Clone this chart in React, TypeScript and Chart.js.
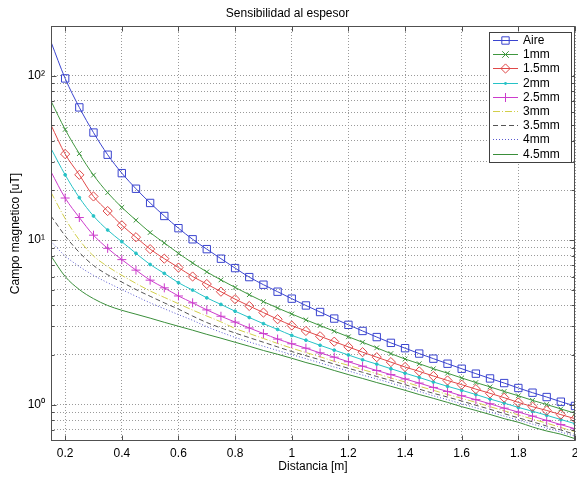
import React, { useEffect, useRef } from 'react';
import { Chart, registerables } from 'chart.js';

Chart.register(...registerables);

// ---- data ----
const distances = [0.15, 0.2, 0.25, 0.3, 0.35, 0.4, 0.45, 0.5, 0.55, 0.6, 0.65, 0.7, 0.75, 0.8, 0.85, 0.9, 0.95, 1.0, 1.05, 1.1, 1.15, 1.2, 1.25, 1.3, 1.35, 1.4, 1.45, 1.5, 1.55, 1.6, 1.65, 1.7, 1.75, 1.8, 1.85, 1.9, 1.95, 2.0];

const aire = [160, 96, 64, 45, 33, 25.5, 20.5, 16.8, 14.0, 11.8, 10.1, 8.8, 7.7, 6.75, 5.95, 5.35, 4.85, 4.4, 4.0, 3.65, 3.33, 3.05, 2.8, 2.57, 2.37, 2.2, 2.04, 1.9, 1.77, 1.65, 1.54, 1.44, 1.35, 1.26, 1.18, 1.11, 1.04, 0.98];
const mm1 = [70, 47, 33.5, 24.8, 19.4, 15.8, 13.2, 11.1, 9.6, 8.3, 7.25, 6.4, 5.72, 5.15, 4.65, 4.22, 3.86, 3.55, 3.27, 3.02, 2.79, 2.58, 2.39, 2.21, 2.04, 1.89, 1.77, 1.65, 1.55, 1.45, 1.36, 1.28, 1.2, 1.13, 1.06, 1.0, 0.94, 0.885];
const mm15 = [50, 33.3, 24.9, 18.4, 15.0, 12.3, 10.4, 8.8, 7.7, 6.8, 6.0, 5.4, 4.85, 4.37, 3.97, 3.62, 3.3, 3.02, 2.8, 2.6, 2.41, 2.24, 2.08, 1.94, 1.81, 1.69, 1.59, 1.49, 1.4, 1.32, 1.24, 1.17, 1.1, 1.03, 0.97, 0.92, 0.868, 0.82];
const mm2 = [36, 24.9, 18.1, 14.0, 11.5, 9.77, 8.3, 7.1, 6.27, 5.5, 4.96, 4.45, 4.06, 3.69, 3.38, 3.1, 2.86, 2.63, 2.46, 2.29, 2.14, 2.0, 1.87, 1.76, 1.65, 1.55, 1.46, 1.37, 1.29, 1.22, 1.15, 1.08, 1.02, 0.96, 0.91, 0.86, 0.81, 0.765];
const mm25 = [26, 18, 13.7, 10.7, 8.9, 7.6, 6.56, 5.7, 5.12, 4.57, 4.15, 3.76, 3.44, 3.17, 2.92, 2.7, 2.5, 2.34, 2.2, 2.06, 1.94, 1.82, 1.71, 1.61, 1.52, 1.43, 1.35, 1.27, 1.2, 1.13, 1.07, 1.01, 0.95, 0.9, 0.85, 0.8, 0.755, 0.712];
const mm3 = [19.5, 13.5, 10.0, 8.0, 6.9, 6.1, 5.45, 4.9, 4.48, 4.1, 3.75, 3.45, 3.18, 2.9, 2.7, 2.52, 2.35, 2.2, 2.07, 1.95, 1.83, 1.73, 1.63, 1.54, 1.45, 1.37, 1.29, 1.22, 1.15, 1.09, 1.03, 0.97, 0.915, 0.865, 0.815, 0.77, 0.725, 0.683];
const mm35 = [14.0, 10.6, 8.4, 7.0, 6.15, 5.55, 5.0, 4.55, 4.15, 3.8, 3.45, 3.15, 2.92, 2.72, 2.55, 2.39, 2.24, 2.1, 1.98, 1.87, 1.76, 1.66, 1.57, 1.48, 1.4, 1.32, 1.24, 1.17, 1.11, 1.05, 0.99, 0.935, 0.88, 0.83, 0.785, 0.74, 0.7, 0.658];
const mm4 = [9.8, 8.0, 6.9, 6.1, 5.5, 5.0, 4.55, 4.15, 3.82, 3.52, 3.25, 2.97, 2.75, 2.56, 2.4, 2.26, 2.13, 2.01, 1.9, 1.79, 1.69, 1.6, 1.51, 1.43, 1.35, 1.27, 1.2, 1.13, 1.07, 1.01, 0.955, 0.9, 0.85, 0.805, 0.76, 0.72, 0.68, 0.642];
const mm45 = [8.0, 6.0, 5.0, 4.4, 4.0, 3.74, 3.54, 3.35, 3.16, 2.99, 2.83, 2.67, 2.53, 2.39, 2.26, 2.13, 2.02, 1.91, 1.8, 1.71, 1.61, 1.52, 1.44, 1.36, 1.29, 1.22, 1.15, 1.09, 1.03, 0.97, 0.92, 0.87, 0.82, 0.78, 0.73, 0.69, 0.66, 0.62];

const seriesLabels = ['Aire', '1mm', '1.5mm', '2mm', '2.5mm', '3mm', '3.5mm', '4mm', '4.5mm'];
const seriesValues = [aire, mm1, mm15, mm2, mm25, mm3, mm35, mm4, mm45];

const xTickValues = [0.2, 0.4, 0.6, 0.8, 1.0, 1.2, 1.4, 1.6, 1.8, 2.0];
const yMajorTicks = [1, 10, 100];
const yMinorTicks = [0.7, 0.8, 0.9, 2, 3, 4, 5, 6, 7, 8, 9, 20, 30, 40, 50, 60, 70, 80, 90];
const yTickLabels: Record<number, string> = { 1: '10\u2070', 10: '10\u00B9', 100: '10\u00B2' };

const titleText = 'Sensibilidad al espesor';
const xTitle = 'Distancia [m]';
const yTitle = 'Campo magnetico [uT]';

// ---- styles ----
const FONT = "'Liberation Sans', Arial, Helvetica, sans-serif";
type Style = { color: string; dash: number[]; marker: string | null; radius: number };
const styles: Style[] = [
  { color: '#3a44cf', dash: [], marker: 'rect', radius: 5.2 },
  { color: '#3f973f', dash: [], marker: 'crossRot', radius: 3.3 },
  { color: '#e04848', dash: [], marker: 'rectRot', radius: 4.6 },
  { color: '#26c2c6', dash: [], marker: 'circle', radius: 1.4 },
  { color: '#cc3ccc', dash: [], marker: 'cross', radius: 4.5 },
  { color: '#d2cf4a', dash: [7, 2, 1, 2], marker: null, radius: 0 },
  { color: '#555555', dash: [5, 3], marker: null, radius: 0 },
  { color: '#5858cf', dash: [1, 2], marker: null, radius: 0 },
  { color: '#3a8e3a', dash: [], marker: null, radius: 0 },
];

function drawMarker(ctx: CanvasRenderingContext2D, marker: string | null, x: number, y: number, r: number, color: string) {
  if (!marker) return;
  ctx.save();
  ctx.setLineDash([]);
  ctx.strokeStyle = color;
  ctx.fillStyle = color;
  ctx.lineWidth = 1;
  ctx.beginPath();
  if (marker === 'rect') {
    const s = Math.SQRT1_2 * r;
    ctx.rect(x - s, y - s, 2 * s, 2 * s);
    ctx.stroke();
  } else if (marker === 'rectRot') {
    ctx.moveTo(x - r, y);
    ctx.lineTo(x, y - r);
    ctx.lineTo(x + r, y);
    ctx.lineTo(x, y + r);
    ctx.closePath();
    ctx.stroke();
  } else if (marker === 'crossRot') {
    const s = Math.SQRT1_2 * r * 1.4;
    ctx.moveTo(x - s, y - s);
    ctx.lineTo(x + s, y + s);
    ctx.moveTo(x - s, y + s);
    ctx.lineTo(x + s, y - s);
    ctx.stroke();
  } else if (marker === 'cross') {
    ctx.moveTo(x - r, y);
    ctx.lineTo(x + r, y);
    ctx.moveTo(x, y - r);
    ctx.lineTo(x, y + r);
    ctx.stroke();
  } else if (marker === 'circle') {
    ctx.arc(x, y, r, 0, Math.PI * 2);
    ctx.fill();
  }
  ctx.restore();
}

const framePlugin = {
  id: 'matlabFrame',
  afterDraw(chart: any) {
    const { ctx, chartArea, scales } = chart;
    const l = Math.round(chartArea.left) + 0.5;
    const r = Math.round(chartArea.right) - 0.5;
    const t = Math.round(chartArea.top) + 0.5;
    const b = Math.round(chartArea.bottom) - 0.5;
    ctx.save();
    ctx.setLineDash([]);
    ctx.strokeStyle = '#505050';
    ctx.lineWidth = 1;
    ctx.strokeRect(l, t, r - l, b - t);
    // inner ticks
    ctx.beginPath();
    xTickValues.forEach((v) => {
      const px = Math.round(scales.x.getPixelForValue(v)) + 0.5;
      ctx.moveTo(px, b);
      ctx.lineTo(px, b - 5);
      ctx.moveTo(px, t);
      ctx.lineTo(px, t + 5);
    });
    yMajorTicks.forEach((v) => {
      const py = Math.round(scales.y.getPixelForValue(v)) + 0.5;
      ctx.moveTo(l, py);
      ctx.lineTo(l + 5, py);
      ctx.moveTo(r, py);
      ctx.lineTo(r - 5, py);
    });
    yMinorTicks.forEach((v) => {
      const py = Math.round(scales.y.getPixelForValue(v)) + 0.5;
      ctx.moveTo(l, py);
      ctx.lineTo(l + 3, py);
      ctx.moveTo(r, py);
      ctx.lineTo(r - 3, py);
    });
    ctx.stroke();

    // legend
    const bx = 489.5, by = 32.5, bw = 82, bh = 130;
    ctx.fillStyle = '#ffffff';
    ctx.fillRect(bx, by, bw, bh);
    ctx.strokeStyle = '#404040';
    ctx.strokeRect(bx, by, bw, bh);
    ctx.font = `12px ${FONT}`;
    ctx.textBaseline = 'middle';
    ctx.textAlign = 'left';
    chart.data.datasets.forEach((ds: any, i: number) => {
      const st = styles[i];
      const y = Math.round(40 + i * 14.2) + 0.5;
      ctx.save();
      ctx.strokeStyle = st.color;
      ctx.lineWidth = 1;
      ctx.setLineDash(st.dash);
      ctx.beginPath();
      ctx.moveTo(493, y);
      ctx.lineTo(518, y);
      ctx.stroke();
      ctx.restore();
      drawMarker(ctx, st.marker, 505.5, y, st.radius, st.color);
      ctx.fillStyle = '#000000';
      ctx.fillText(ds.label, 523, y);
    });
    ctx.restore();
  },
};

function fmtX(v: number): string {
  return String(Number(v.toFixed(1)));
}

export default function App() {
  const canvasRef = useRef<HTMLCanvasElement | null>(null);

  useEffect(() => {
    if (!canvasRef.current) return;
    const datasets = seriesLabels.map((label, i) => {
      const st = styles[i];
      return {
        label,
        data: distances.map((d, k) => ({ x: d, y: seriesValues[i][k] })),
        borderColor: st.color,
        backgroundColor: st.marker === 'circle' ? st.color : 'rgba(0,0,0,0)',
        borderWidth: 1,
        borderDash: st.dash,
        pointStyle: st.marker || 'circle',
        pointRadius: (c: any) => (st.marker && c.dataIndex > 0 ? st.radius : 0),
        pointBorderColor: st.color,
        pointBackgroundColor: st.marker === 'circle' ? st.color : 'rgba(0,0,0,0)',
        pointBorderWidth: 1,
        pointHoverRadius: 0,
        cubicInterpolationMode: 'monotone' as const,
        fill: false,
      };
    });

    const chart = new Chart(canvasRef.current, {
      type: 'line',
      data: { datasets },
      options: {
        animation: false,
        responsive: false,
        devicePixelRatio: 1,
        events: [],
        layout: { autoPadding: false, padding: { left: 0, right: 2, top: 0, bottom: 0 } },
        plugins: {
          legend: { display: false },
          tooltip: { enabled: false },
          title: {
            display: true,
            text: titleText,
            color: '#000',
            font: { family: FONT, size: 12, weight: 'normal' },
            padding: { top: 6, bottom: 5.6 },
          },
        },
        scales: {
          x: {
            type: 'linear',
            min: 0.15,
            max: 2,
            afterBuildTicks: (s: any) => {
              s.ticks = xTickValues.map((v) => ({ value: v }));
            },
            afterFit: (s: any) => {
              s.height = 37;
              s.paddingLeft = 0;
              s.paddingRight = 0;
            },
            ticks: {
              autoSkip: false,
              maxRotation: 0,
              minRotation: 0,
              padding: 5,
              color: '#000',
              font: { family: FONT, size: 12 },
              callback: (v: any) => fmtX(Number(v)),
            },
            grid: { color: '#9a9a9a', lineWidth: 1, drawTicks: false },
            border: { display: false, dash: [1, 2] },
            title: {
              display: true,
              text: xTitle,
              color: '#000',
              font: { family: FONT, size: 12 },
              padding: { top: 0, bottom: 4 },
            },
          },
          y: {
            type: 'logarithmic',
            min: 0.6,
            max: 200,
            afterBuildTicks: (s: any) => {
              s.ticks = [...yMinorTicks, ...yMajorTicks].sort((a, b) => a - b).map((v) => ({ value: v }));
            },
            afterFit: (s: any) => {
              s.width = 51;
              s.paddingTop = 0;
              s.paddingBottom = 0;
            },
            ticks: {
              autoSkip: false,
              padding: 6,
              color: '#000',
              font: { family: FONT, size: 12 },
              callback: (v: any) => yTickLabels[Number(v)] || '',
            },
            grid: { color: '#9a9a9a', lineWidth: 1, drawTicks: false },
            border: { display: false, dash: [1, 2] },
            title: {
              display: true,
              text: yTitle,
              color: '#000',
              font: { family: FONT, size: 12 },
              padding: { top: 8, bottom: 0 },
            },
          },
        },
      },
      plugins: [framePlugin],
    } as any);

    return () => chart.destroy();
  }, []);

  return (
    <div style={{ position: 'absolute', left: 0, top: 0, width: 577, height: 478, background: '#ffffff' }}>
      <canvas ref={canvasRef} width={577} height={478} style={{ display: 'block', width: 577, height: 478 }} />
    </div>
  );
}
